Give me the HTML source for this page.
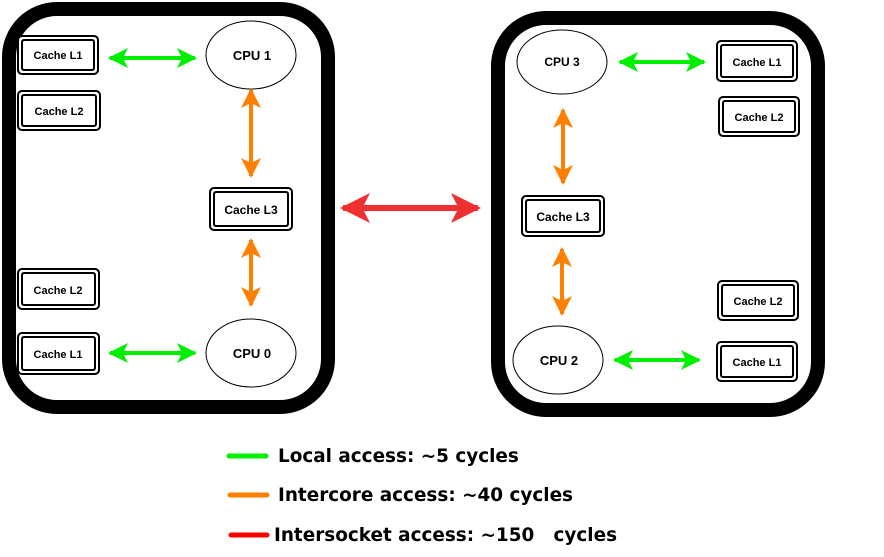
<!DOCTYPE html><html><head><style>body{margin:0;background:#fff}svg{display:block}</style></head><body>
<svg width="884" height="557" xmlns="http://www.w3.org/2000/svg" font-family="Liberation Sans, sans-serif" font-weight="bold">
<defs>
<marker id="g" viewBox="0 0 10 10" refX="9" refY="5" markerWidth="5" markerHeight="5" orient="auto-start-reverse"><path d="M0,0L10,5L0,10L2.5,5z" fill="#00ee00"/></marker>
<marker id="o" viewBox="0 0 10 10" refX="9" refY="5" markerWidth="5" markerHeight="5" orient="auto-start-reverse"><path d="M0,0L10,5L0,10L2.5,5z" fill="#ff8000"/></marker>
<marker id="r" viewBox="0 0 10 10" refX="9" refY="5" markerWidth="5" markerHeight="5" orient="auto-start-reverse"><path d="M0,0L10,5L0,10L2.5,5z" fill="#f03030"/></marker>
</defs>
<rect x="9" y="9" width="319" height="398" rx="48" fill="#fff" stroke="#000" stroke-width="14"/>
<rect x="498" y="18" width="320" height="392" rx="48" fill="#fff" stroke="#000" stroke-width="14"/>
<g font-size="12" text-anchor="middle">
<g fill="#fff" stroke="#000">
<rect x="18" y="36" width="80" height="38" rx="4" stroke-width="2"/><rect x="22" y="40" width="72" height="30" rx="2" stroke-width="2"/>
<rect x="18" y="91" width="82" height="39" rx="4" stroke-width="2"/><rect x="22" y="95" width="74" height="31" rx="2" stroke-width="2"/>
<rect x="210" y="188" width="82" height="42" rx="4" stroke-width="2"/><rect x="214" y="192" width="74" height="34" rx="2" stroke-width="2"/>
<rect x="18" y="269" width="81" height="40" rx="4" stroke-width="2"/><rect x="22" y="273" width="73" height="32" rx="2" stroke-width="2"/>
<rect x="18" y="333" width="81" height="41" rx="4" stroke-width="2"/><rect x="22" y="337" width="73" height="33" rx="2" stroke-width="2"/>
<rect x="717" y="41" width="80" height="40" rx="4" stroke-width="2"/><rect x="721" y="45" width="72" height="32" rx="2" stroke-width="2"/>
<rect x="719" y="97" width="80" height="39" rx="4" stroke-width="2"/><rect x="723" y="101" width="72" height="31" rx="2" stroke-width="2"/>
<rect x="522" y="196" width="82" height="40" rx="4" stroke-width="2"/><rect x="526" y="200" width="74" height="32" rx="2" stroke-width="2"/>
<rect x="718" y="281" width="80" height="39" rx="4" stroke-width="2"/><rect x="722" y="285" width="72" height="31" rx="2" stroke-width="2"/>
<rect x="717" y="342" width="80" height="39" rx="4" stroke-width="2"/><rect x="721" y="346" width="72" height="31" rx="2" stroke-width="2"/>
<ellipse cx="251" cy="55" rx="45" ry="34" stroke-width="1"/>
<ellipse cx="251" cy="353" rx="45" ry="34" stroke-width="1"/>
<ellipse cx="562" cy="62" rx="45" ry="32" stroke-width="1"/>
<ellipse cx="558" cy="360" rx="45" ry="34" stroke-width="1"/>
</g>
<text x="58" y="59" font-size="11">Cache L1</text>
<text x="59" y="115" font-size="11">Cache L2</text>
<text x="251" y="214">Cache L3</text>
<text x="58" y="294" font-size="11">Cache L2</text>
<text x="58" y="358" font-size="11">Cache L1</text>
<text x="757" y="66" font-size="11">Cache L1</text>
<text x="759" y="121" font-size="11">Cache L2</text>
<text x="563" y="221">Cache L3</text>
<text x="758" y="305" font-size="11">Cache L2</text>
<text x="757" y="366" font-size="11">Cache L1</text>
<text x="252" y="60" font-size="13">CPU 1</text>
<text x="252" y="358" font-size="13">CPU 0</text>
<text x="562" y="66" font-size="12">CPU 3</text>
<text x="559" y="365" font-size="13">CPU 2</text>
</g>
<g stroke-width="4" fill="none">
<line x1="110" y1="58" x2="195" y2="58" stroke="#00ee00" marker-start="url(#g)" marker-end="url(#g)"/>
<line x1="110" y1="353" x2="195" y2="353" stroke="#00ee00" marker-start="url(#g)" marker-end="url(#g)"/>
<line x1="620" y1="62" x2="704" y2="62" stroke="#00ee00" marker-start="url(#g)" marker-end="url(#g)"/>
<line x1="615" y1="360" x2="699" y2="360" stroke="#00ee00" marker-start="url(#g)" marker-end="url(#g)"/>
<line x1="251" y1="90" x2="251" y2="176" stroke="#ff8000" marker-start="url(#o)" marker-end="url(#o)"/>
<line x1="251" y1="240" x2="251" y2="305" stroke="#ff8000" marker-start="url(#o)" marker-end="url(#o)"/>
<line x1="563" y1="110" x2="563" y2="183" stroke="#ff8000" marker-start="url(#o)" marker-end="url(#o)"/>
<line x1="562" y1="249" x2="562" y2="314" stroke="#ff8000" marker-start="url(#o)" marker-end="url(#o)"/>
<line x1="343" y1="208" x2="478" y2="208" stroke="#f03030" stroke-width="6" marker-start="url(#r)" marker-end="url(#r)"/>
</g>
<g stroke-width="5" stroke-linecap="round">
<line x1="229" y1="456" x2="266" y2="456" stroke="#00ee00"/>
<line x1="230" y1="495" x2="267" y2="495" stroke="#ff8000"/>
<line x1="231" y1="535" x2="267" y2="535" stroke="#ff0000"/>
</g>
<g font-family="DejaVu Sans, sans-serif" font-size="18.4" fill="#000">
<text x="278" y="462">Local access: ~5 cycles</text>
<text x="278" y="501">Intercore access: ~40 cycles</text>
<text x="274" y="541" xml:space="preserve">Intersocket access: ~150   cycles</text>
</g>
</svg>
</body></html>
